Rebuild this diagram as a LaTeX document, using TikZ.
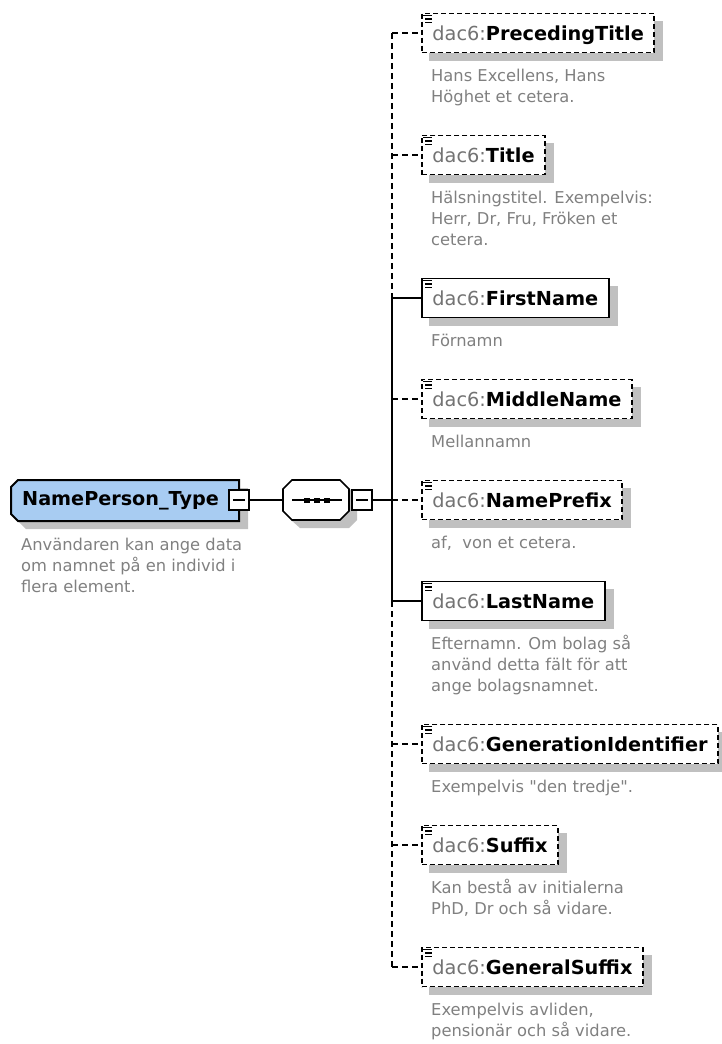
\documentclass[tikz,border=0pt]{standalone}
\usepackage{fontspec}
\setmainfont{DejaVu Sans}[Ligatures=TeXOff]
\usetikzlibrary{calc,backgrounds}
\definecolor{shadowgray}{RGB}{192,192,192}
\definecolor{descgray}{RGB}{128,128,128}
\definecolor{prefixgray}{RGB}{115,115,115}
\definecolor{rootblue}{RGB}{168,204,242}
\newcommand\elicon[1]{%
  \draw[iconline] ($(#1.north west)+(2,3)$) -- +(9,0)
                  ($(#1.north west)+(4,6.5)$) -- +(7,0)
                  ($(#1.north west)+(4,10)$) -- +(7,0);
  \begin{scope}[on background layer]
    \fill[shadowgray] ($(#1.north west)+(8,8)$) rectangle ($(#1.south east)+(8,8)$);
  \end{scope}}
\tikzset{
  elem/.style={draw=black, fill=white, line width=1.9pt, minimum height=39pt,
    inner xsep=10.5pt, inner ysep=0pt, text height=14pt, text depth=0pt,
    anchor=west, font=\fontsize{19.3}{22}\selectfont\bfseries},
  optelem/.style={elem, dash pattern=on 5pt off 3pt},
  desc/.style={anchor=north west, inner sep=0pt, align=left, text=descgray,
    font=\fontsize{16.3}{21}\selectfont},
  conn/.style={line width=1.8pt},
  optconn/.style={line width=1.8pt, dash pattern=on 6pt off 4pt},
  iconline/.style={line width=1.5pt, black},
  btn/.style={draw=black, fill=white, line width=1.5pt, minimum size=20pt, inner sep=0pt}
}
\newcommand\pfxtxt{{\mdseries\color{prefixgray}dac6:}}
\newcommand\firstl{\rule{0pt}{16pt}}
\begin{document}
\begin{tikzpicture}[x=1pt,y=-1pt]
\useasboundingbox (0,0) rectangle (722,1044);

% ---------- root ----------
\fill[shadowgray] (26,488) -- (248,488) -- (248,529) -- (26,529) -- (19,522) -- (19,495) -- cycle;
\draw[line width=2pt, fill=rootblue] (18,480) -- (239,480) -- (239,521) -- (18,521) -- (11,514) -- (11,487) -- cycle;
\node[anchor=west, inner sep=0pt, font=\fontsize{19.2}{22}\selectfont\bfseries] (root) at (22,500.5) {NamePerson\_Type};
\node[desc] (rootd) at (21,534.5) {\firstl Användaren kan ange data\\om namnet på en individ i\\flera element.};
\node[btn] (rb) at (239,500) {};
\draw[line width=1.5pt] ($(rb.center)+(-6,0)$) -- ($(rb.center)+(6,0)$);

% ---------- sequence ----------
\fill[shadowgray] (300,488) -- (349,488) -- (357,496) -- (357,520) -- (349,528) -- (300,528) -- (291,520) -- (291,496) -- cycle;
\draw[line width=1.7pt, fill=white] (292,480) -- (340,480) -- (349,489) -- (349,511) -- (340,520) -- (292,520) -- (283,511) -- (283,489) -- cycle;
\coordinate (seqw) at (283,500);
\draw[line width=1.6pt] (292,500) -- (342,500);
\fill (304,497.5) rectangle (310,503);
\fill (314,497.5) rectangle (320,503);
\fill (324,497.5) rectangle (330,503);
\node[btn] (sb) at (362,500) {};
\draw[line width=1.5pt] ($(sb.center)+(-6,0)$) -- ($(sb.center)+(6,0)$);
\draw[conn] (rb.east) -- (seqw);
\coordinate (junc) at (392,500);
\draw[conn] (sb.east) -- (junc);

% ---------- elements ----------
\node[optelem] (pt) at (421,33) {\pfxtxt PrecedingTitle};
\node[desc] (ptd) at (431,65) {\firstl Hans Excellens, Hans\\Höghet et cetera.};
\node[optelem] (ti) at (421,155) {\pfxtxt Title};
\node[desc] (tid) at (431,187) {\firstl Hälsningstitel. Exempelvis:\\Herr, Dr, Fru, Fröken et\\cetera.};
\node[elem] (fn) at (421,298) {\pfxtxt FirstName};
\node[desc] (fnd) at (431,330) {\firstl Förnamn};
\node[optelem] (mn) at (421,399) {\pfxtxt MiddleName};
\node[desc] (mnd) at (431,431) {\firstl Mellannamn};
\node[optelem] (np) at (421,500) {\pfxtxt NamePrefix};
\node[desc] (npd) at (431,532) {\firstl af,\ \ von et cetera.};
\node[elem] (ln) at (421,601) {\pfxtxt LastName};
\node[desc] (lnd) at (431,633) {\firstl Efternamn. Om bolag så\\använd detta fält för att\\ange bolagsnamnet.};
\node[optelem] (gi) at (421,744) {\pfxtxt GenerationIdentifier};
\node[desc] (gid) at (431,776) {\firstl Exempelvis "den tredje".};
\node[optelem] (su) at (421,845) {\pfxtxt Suffix};
\node[desc] (sud) at (431,877) {\firstl Kan bestå av initialerna\\PhD, Dr och så vidare.};
\node[optelem] (gs) at (421,967) {\pfxtxt GeneralSuffix};
\node[desc] (gsd) at (431,999) {\firstl Exempelvis avliden,\\pensionär och så vidare.};

\foreach \n in {pt,ti,fn,mn,np,ln,gi,su,gs} {\elicon{\n}}

% ---------- connectors ----------
\coordinate (vtop) at (392,33);
\coordinate (vfn) at (392,298);
\coordinate (vln) at (392,601);
\coordinate (vbot) at (392,967);
\draw[optconn] (vtop) -- (vfn);
\draw[conn] (vfn) -- (vln);
\draw[optconn] (vln) -- (vbot);
\draw[optconn] (vtop) -- (pt.west);
\draw[optconn] (ti.west -| vtop) -- (ti.west);
\draw[conn] (vfn) -- (fn.west);
\draw[optconn] (mn.west -| vtop) -- (mn.west);
\draw[optconn] (junc) -- (np.west);
\draw[conn] (vln) -- (ln.west);
\draw[optconn] (gi.west -| vtop) -- (gi.west);
\draw[optconn] (su.west -| vtop) -- (su.west);
\draw[optconn] (vbot) -- (gs.west);
\end{tikzpicture}
\end{document}
